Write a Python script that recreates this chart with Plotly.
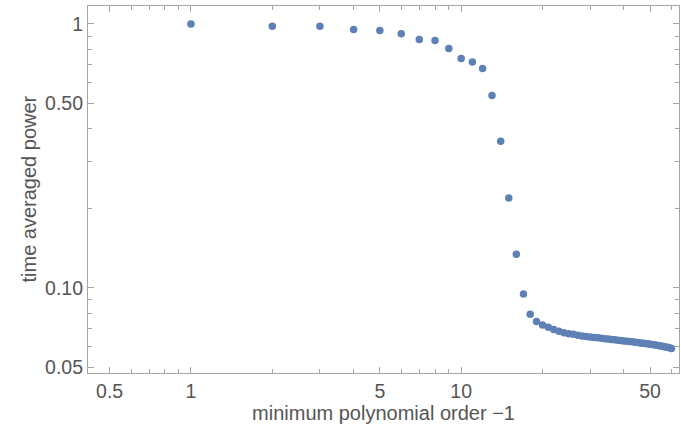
import plotly.graph_objects as go

order = list(range(1, 61))
power = [1.0, 0.980, 0.980, 0.952, 0.944, 0.917, 0.873, 0.865, 0.807, 0.739,
         0.718, 0.678, 0.535, 0.359, 0.219, 0.134, 0.0948, 0.0794, 0.0745, 0.0722,
         0.0708, 0.0695, 0.0684, 0.0675, 0.0670, 0.0666, 0.0661, 0.0657, 0.0654, 0.0651,
         0.0648, 0.0646, 0.0644, 0.0641, 0.0639, 0.0637, 0.0635, 0.0633, 0.0631, 0.0629,
         0.0627, 0.0626, 0.0624, 0.0622, 0.0620, 0.0618, 0.0616, 0.0615, 0.0613, 0.0611,
         0.0609, 0.0607, 0.0605, 0.0603, 0.0601, 0.0599, 0.0597, 0.0595, 0.0592, 0.0589]

x_major = [0.5, 1, 5, 10, 50]
x_major_text = ["0.5", "1", "5", "10", "50"]
x_minor = [0.6, 0.7, 0.8, 0.9, 2, 3, 4, 6, 7, 8, 9, 20, 30, 40, 60]
y_major = [0.05, 0.1, 0.5, 1]
y_major_text = ["0.05", "0.10", "0.50", "1"]
y_minor = [0.06, 0.07, 0.08, 0.09, 0.2, 0.3, 0.4, 0.6, 0.7, 0.8, 0.9]

FONT = "Liberation Sans, Arial, sans-serif"
FRAME = "#a6a6a6"
LABEL = "#555555"

fig = go.Figure(go.Scatter(
    x=order, y=power, mode="markers",
    marker=dict(color="#5e81b5", size=7.5, line=dict(width=0)),
))

common = dict(
    type="log", showgrid=False, zeroline=False, showline=True, linecolor=FRAME,
    linewidth=1.2, mirror="ticks", ticks="inside", ticklen=6, tickcolor=FRAME,
    tickwidth=1, tickmode="array", tickfont=dict(family=FONT, size=19.5, color=LABEL),
)

fig.update_xaxes(
    **common, range=[-0.381, 1.806], tickvals=x_major, ticktext=x_major_text,
    minor=dict(tickmode="array", tickvals=x_minor, ticks="inside", ticklen=3.5,
               tickcolor=FRAME, tickwidth=1, showgrid=False),
    title=dict(text="minimum polynomial order \u22121",
               font=dict(family=FONT, size=20, color=LABEL), standoff=5),
)
fig.update_yaxes(
    **common, range=[-1.323, 0.068], tickvals=y_major, ticktext=y_major_text,
    minor=dict(tickmode="array", tickvals=y_minor, ticks="inside", ticklen=3.5,
               tickcolor=FRAME, tickwidth=1, showgrid=False),
)

fig.add_annotation(
    text="time averaged power", xref="paper", yref="paper", x=-0.1015, y=0.5,
    textangle=-90, showarrow=False, xanchor="center", yanchor="middle",
    font=dict(family=FONT, size=20, color=LABEL),
)

fig.update_layout(
    width=681, height=426, margin=dict(l=88, r=2, t=6, b=53),
    paper_bgcolor="white", plot_bgcolor="white", showlegend=False,
)

fig.write_html("out.html")
